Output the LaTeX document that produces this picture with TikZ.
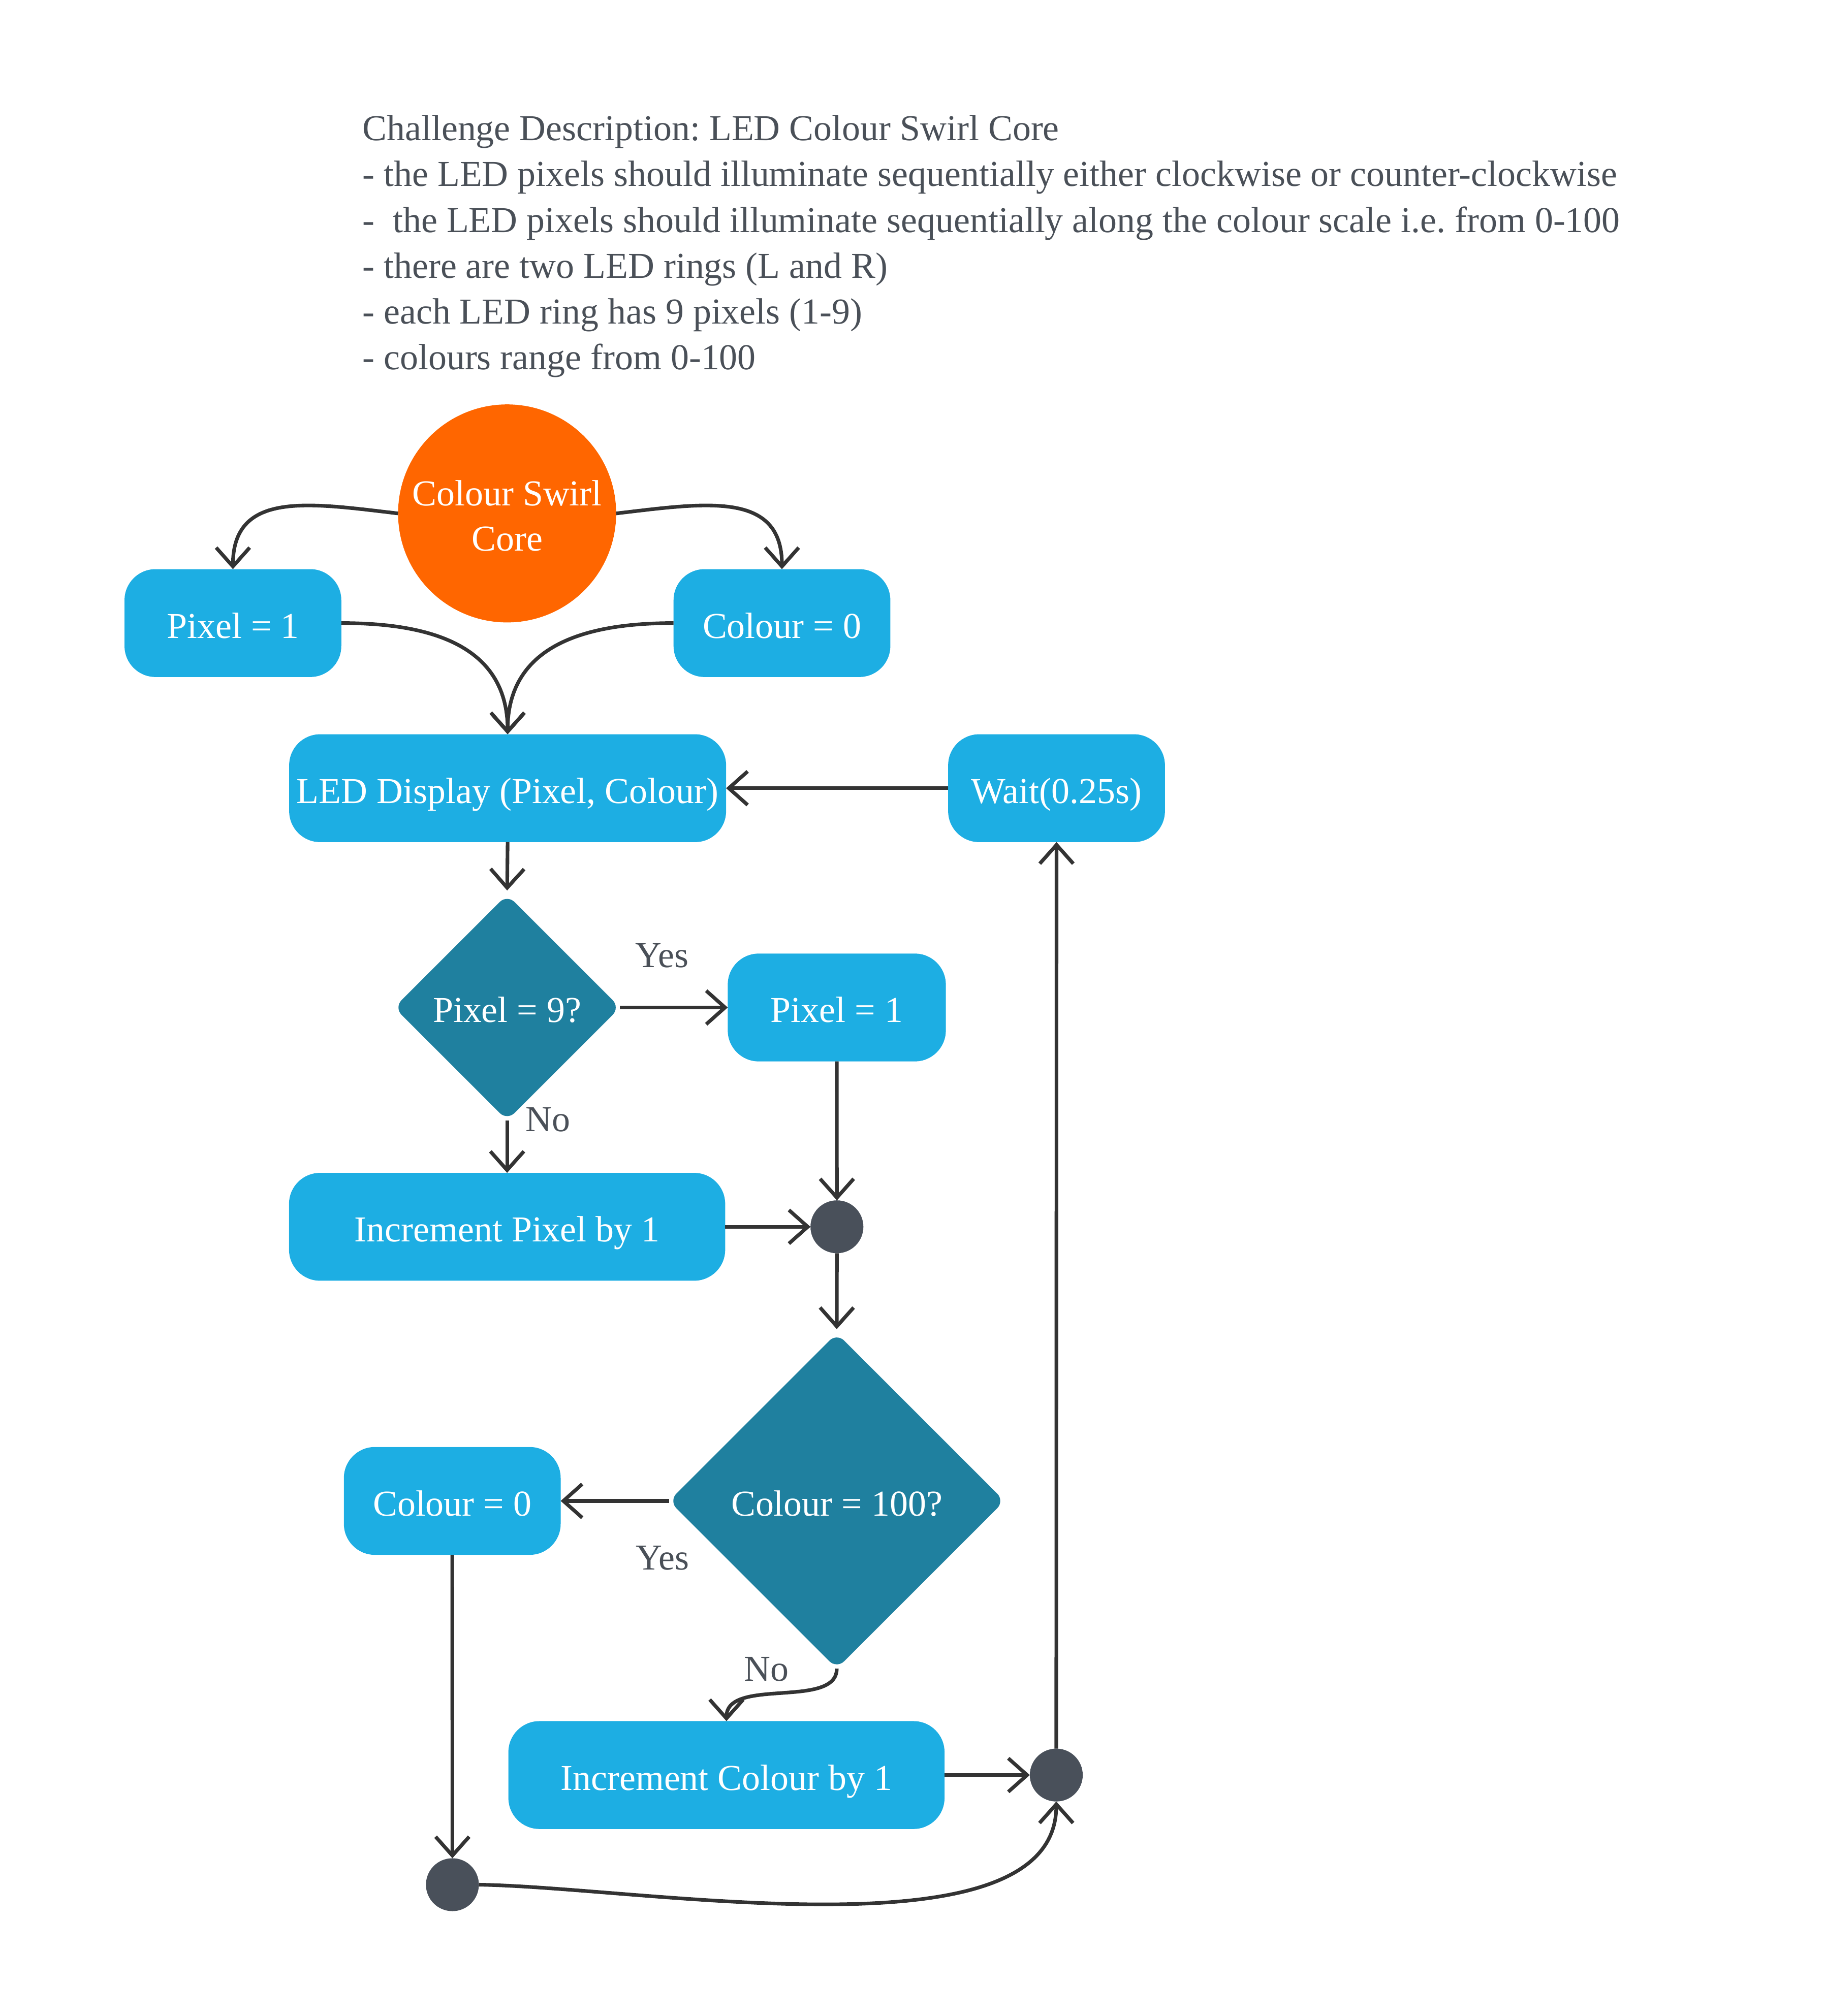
\documentclass[tikz,border=0pt]{standalone}
\usepackage{fontspec}
\setmainfont{Liberation Serif}
\usetikzlibrary{arrows.meta,shapes.geometric}
\definecolor{boxblue}{HTML}{1DAEE3}
\definecolor{decteal}{HTML}{1F809F}
\definecolor{orangec}{HTML}{FF6600}
\definecolor{juncc}{HTML}{49505A}
\definecolor{linec}{HTML}{333333}
\definecolor{txtgray}{HTML}{4A5058}
\frenchspacing
\begin{document}
\begin{tikzpicture}[x=0.5pt,y=-0.5pt,
  font=\fontsize{14.15}{17.6}\selectfont,
  actbox/.style={rectangle, rounded corners=12pt, fill=boxblue, text=white,
    minimum height=41.8pt, inner sep=0pt, outer sep=0pt, text height=13pt, text depth=1.4pt},
  decbox/.style={diamond, aspect=1, rounded corners=4pt, fill=decteal, text=white,
    inner sep=0pt, outer sep=0pt, text height=13pt, text depth=1.4pt},
  startc/.style={circle, fill=orangec, text=white, minimum size=84.5pt, inner sep=0pt,
    outer sep=0pt, align=center},
  juncnode/.style={circle, fill=juncc, minimum size=20.5pt, inner sep=0pt, outer sep=0pt},
  conn/.style={draw=linec, line width=1.4pt, -{Straight Barb[length=7.3pt,width=13pt]}},
  lbl/.style={text=txtgray, inner sep=0pt, anchor=base},
  desc/.style={text=txtgray, inner sep=0pt, anchor=base west}
]
\useasboundingbox (0,0) rectangle (1414,1562.8);

% description
\node[desc] (d1t) at (280.5,109) {Challenge Description: LED Colour Swirl Core};
\node[desc] (d2t) at (280.5,144.5) {- the LED pixels should illuminate sequentially either clockwise or counter-clockwise};
\node[desc] (d3t) at (280.5,180) {-\ \ the LED pixels should illuminate sequentially along the colour scale i.e. from 0-100};
\node[desc] (d4t) at (280.5,215.5) {- there are two LED rings (L and R)};
\node[desc] (d5t) at (280.5,251) {- each LED ring has 9 pixels (1-9)};
\node[desc] (d6t) at (280.5,286.5) {- colours range from 0-100};

% nodes
\node[startc] (start) at (393,398) {\rule{0pt}{11.6pt}Colour Swirl\\Core};
\node[actbox, minimum width=84pt] (p1) at (180.5,483) {Pixel = 1};
\node[actbox, minimum width=84pt] (c0) at (606,483) {Colour = 0};
\node[actbox, minimum width=169.3pt] (led) at (393.4,611) {LED Display (Pixel, Colour)};
\node[actbox, minimum width=84pt] (wait) at (818.8,611) {Wait(0.25s)};
\node[decbox, minimum width=87.5pt, minimum height=87.5pt] (dec1) at (393,781) {Pixel = 9?};
\node[actbox, minimum width=84.5pt] (p1b) at (648.5,781) {Pixel = 1};
\node[actbox, minimum width=169pt] (incp) at (393,951) {Increment Pixel by 1};
\node[juncnode] (j1) at (648.6,951) {};
\node[decbox, minimum width=130pt, minimum height=130pt] (dec2) at (648.5,1163.5) {Colour = 100?};
\node[actbox, minimum width=84pt] (c0b) at (350.5,1163.5) {Colour = 0};
\node[actbox, minimum width=169pt] (incc) at (563,1376) {Increment Colour by 1};
\node[juncnode] (j2) at (818.6,1376) {};
\node[juncnode] (j3) at (350.6,1461) {};

% labels
\node[lbl] (yes1) at (513,750) {Yes};
\node[lbl] (no1) at (424.5,877) {No};
\node[lbl] (yes2) at (513.5,1217) {Yes};
\node[lbl] (no2) at (594,1303) {No};

% connectors
\draw[conn] (start.west) .. controls (240,390) and (180.5,380) .. (p1.north);
\draw[conn] (start.east) .. controls (546,390) and (606,380) .. (c0.north);
\draw[conn] (p1.east) .. controls (333,483) and (393.4,500) .. (led.north);
\draw[conn] (c0.west) .. controls (453.8,483) and (393.4,500) .. (led.north);
\draw[conn] (wait.west) -- (led.east);
\draw[conn, shorten >=1.6pt] (led.south) -- (dec1.north);
\draw[conn] (dec1.east) -- (p1b.west);
\draw[conn] (dec1.south) -- (incp.north);
\draw[conn] (p1b.south) -- (j1.north);
\draw[conn] (incp.east) -- (j1.west);
\draw[conn, shorten >=1.6pt] (j1.south) -- (dec2.north);
\draw[conn] (dec2.west) -- (c0b.east);
\draw[conn] (dec2.south) .. controls (648.5,1325) and (563,1300) .. (incc.north);
\draw[conn] (incc.east) -- (j2.west);
\draw[conn] (j2.north) -- (wait.south);
\draw[conn] (c0b.south) -- (j3.north);
\draw[conn] (j3.east) .. controls (500,1463) and (818.6,1520) .. (j2.south);
\end{tikzpicture}
\end{document}
